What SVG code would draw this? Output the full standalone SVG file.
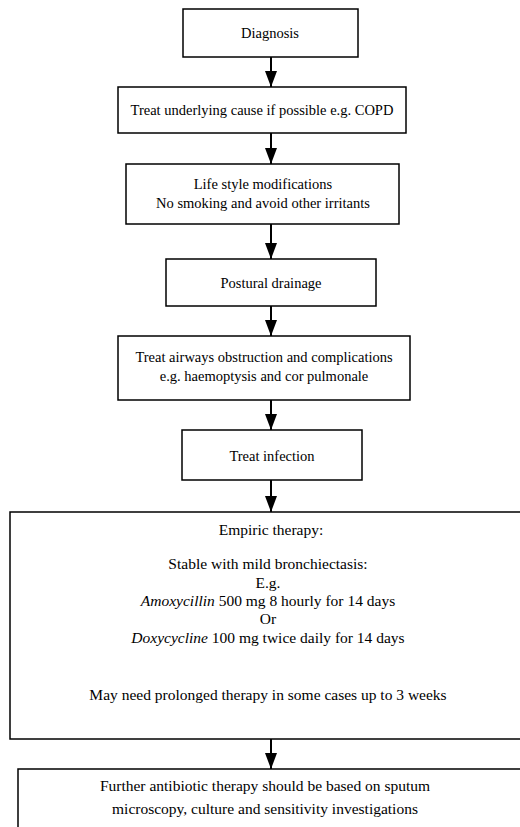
<svg xmlns="http://www.w3.org/2000/svg" width="520" height="827" viewBox="0 0 520 827">
<style>
.box{fill:#fff;stroke:#000;stroke-width:1.5}
.t{font-family:"Liberation Serif","Times New Roman",serif;font-size:14.5px;fill:#000;text-anchor:middle}
.l{font-size:15.5px}
.i{font-style:italic}
.c{stroke:#000;stroke-width:2;fill:none}
</style>
<defs>
<marker id="ah" viewBox="0 0 16 12" refX="16" refY="6" markerWidth="16" markerHeight="12" markerUnits="userSpaceOnUse" orient="auto">
<path d="M0,0 L16,6 L0,12 Z" fill="#000"/>
</marker>
</defs>
<rect width="520" height="827" fill="#fff"/>
<g id="connectors">
<line class="c" x1="271" y1="57" x2="271" y2="87" marker-end="url(#ah)"/>
<line class="c" x1="271" y1="133" x2="271" y2="164" marker-end="url(#ah)"/>
<line class="c" x1="271" y1="224" x2="271" y2="259" marker-end="url(#ah)"/>
<line class="c" x1="271" y1="306" x2="271" y2="336" marker-end="url(#ah)"/>
<line class="c" x1="271" y1="400" x2="271" y2="430" marker-end="url(#ah)"/>
<line class="c" x1="271" y1="480" x2="271" y2="512" marker-end="url(#ah)"/>
<line class="c" x1="271" y1="739" x2="271" y2="769" marker-end="url(#ah)"/>
</g>
<g id="n1"><rect class="box" x="183" y="9" width="175" height="48"/><text class="t" x="270" y="38">Diagnosis</text></g>
<g id="n2"><rect class="box" x="118" y="87" width="288" height="46"/><text class="t" x="262" y="115">Treat underlying cause if possible e.g. COPD</text></g>
<g id="n3"><rect class="box" x="126" y="164" width="273" height="60"/><text class="t" x="263" y="189">Life style modifications</text><text class="t" x="263" y="208">No smoking and avoid other irritants</text></g>
<g id="n4"><rect class="box" x="166" y="259" width="210" height="47"/><text class="t" x="271" y="288">Postural drainage</text></g>
<g id="n5"><rect class="box" x="118" y="336" width="292" height="64"/><text class="t" x="264" y="362">Treat airways obstruction and complications</text><text class="t" x="264" y="381">e.g. haemoptysis and cor pulmonale</text></g>
<g id="n6"><rect class="box" x="182" y="430" width="180" height="50"/><text class="t" x="272" y="461">Treat infection</text></g>
<g id="n7"><rect class="box" x="10" y="512" width="512" height="227"/>
<text class="t l" x="271" y="535">Empiric therapy:</text>
<text class="t l" x="268" y="569">Stable with mild bronchiectasis:</text>
<text class="t l" x="268" y="588">E.g.</text>
<text class="t l" x="268" y="606"><tspan class="i">Amoxycillin</tspan> 500 mg 8 hourly for 14 days</text>
<text class="t l" x="268" y="624">Or</text>
<text class="t l" x="268" y="643"><tspan class="i">Doxycycline</tspan> 100 mg twice daily for 14 days</text>
<text class="t l" x="268" y="700">May need prolonged therapy in some cases up to 3 weeks</text>
</g>
<g id="n8"><rect class="box" x="18" y="769" width="504" height="70"/>
<text class="t l" x="265" y="791">Further antibiotic therapy should be based on sputum</text>
<text class="t l" x="265" y="814">microscopy, culture and sensitivity investigations</text>
</g>
</svg>
